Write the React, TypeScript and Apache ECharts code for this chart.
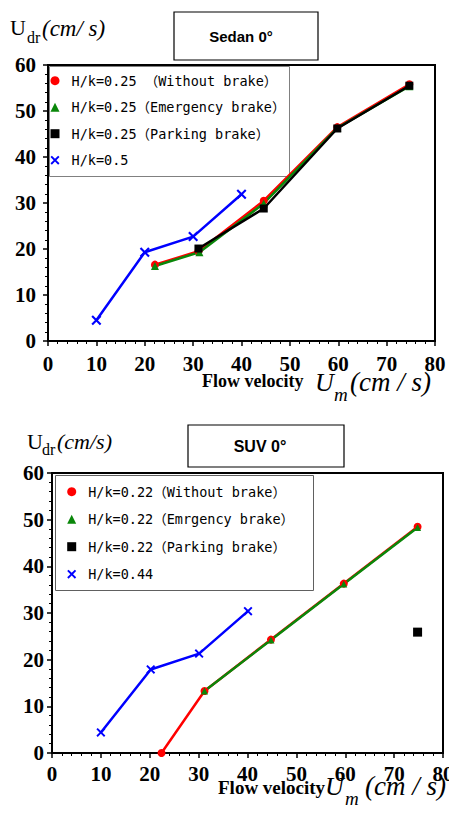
import React, { useEffect, useRef } from "react";
import * as echarts from "echarts";

// ---------- data ----------
const sedanNames = [
  "H/k=0.25 （Without brake）",
  "H/k=0.25（Emergency brake）",
  "H/k=0.25（Parking brake）",
  "H/k=0.5",
];
const sedanWithout = [[22.1, 16.6], [31.1, 19.5], [44.6, 30.5], [59.8, 46.5], [74.7, 55.8]];
const sedanEmergency = [[22.1, 16.3], [31.3, 19.3], [44.6, 29.9], [59.8, 46.3], [74.7, 55.4]];
const sedanParking = [[31.1, 20.1], [44.6, 28.8], [59.8, 46.2], [74.7, 55.5]];
const sedanHalf = [[10, 4.5], [20, 19.3], [30, 22.7], [40, 31.9]];

const suvNames = [
  "H/k=0.22（Without brake）",
  "H/k=0.22（Emrgency brake）",
  "H/k=0.22（Parking brake）",
  "H/k=0.44",
];
const suvWithout = [[22.4, 0], [31.2, 13.3], [44.8, 24.3], [59.7, 36.3], [74.8, 48.5]];
const suvEmergency = [[31.2, 13.3], [44.8, 24.2], [59.7, 36.2], [74.8, 48.3]];
const suvParking = [[74.8, 25.9]];
const suvHalf = [[10, 4.4], [20.2, 17.9], [30.1, 21.3], [40.1, 30.4]];

const xMin = 0, xMax = 80, xStep = 10;
const yMin = 0, yMax = 60, yStep = 10;

const RED = "#ff0000";
const GREEN = "#0a870a";
const BLACK = "#000000";
const BLUE = "#0000ff";
const X_PATH =
  "path://M0,1.5L1.5,0L5,3.5L8.5,0L10,1.5L6.5,5L10,8.5L8.5,10L5,6.5L1.5,10L0,8.5L3.5,5Z";

const symbols = ["circle", "triangle", "rect", X_PATH];
const colors = [RED, GREEN, BLACK, BLUE];

const SERIF = "Liberation Serif";

function axisBase(min: number, max: number, step: number, margin: number) {
  return {
    type: "value",
    min,
    max,
    interval: step,
    axisLine: { show: true, onZero: false, lineStyle: { color: "#000", width: 2 } },
    axisTick: { show: true, inside: false, length: 5, lineStyle: { color: "#000", width: 1.5 } },
    minorTick: { show: true, splitNumber: 5, length: 3, lineStyle: { color: "#000", width: 1 } },
    splitLine: { show: false },
    axisLabel: {
      show: true,
      color: "#000",
      fontFamily: SERIF,
      fontWeight: "bold",
      fontSize: 21,
      margin,
      formatter: "{t|{value}}",
      rich: {
        t: { fontFamily: SERIF, fontWeight: "bold", fontSize: 21, color: "#000" },
      },
    },
  };
}

function lineSeries(
  name: string,
  data: number[][],
  idx: number,
  gi: number,
  size: number,
  showLine = true
) {
  return {
    type: "line",
    name,
    xAxisIndex: gi,
    yAxisIndex: gi,
    data,
    symbol: symbols[idx],
    symbolSize: idx === 3 ? size + 2 : size,
    showSymbol: true,
    lineStyle: { color: colors[idx], width: showLine ? 2.5 : 0, opacity: showLine ? 1 : 0 },
    itemStyle: { color: colors[idx] },
    emphasis: { disabled: true },
  };
}

function txt(
  text: string,
  x: number,
  y: number,
  fontSize: number,
  opts: { family?: string; weight?: string; style?: string; align?: string } = {}
) {
  return {
    type: "text",
    x,
    y,
    z: 10,
    style: {
      text,
      fontSize,
      fontFamily: opts.family || SERIF,
      fontWeight: opts.weight || "normal",
      fontStyle: opts.style || "normal",
      fill: "#000",
      align: opts.align || "left",
      verticalAlign: "middle",
    },
  };
}

export default function App() {
  const ref = useRef<HTMLDivElement>(null);

  useEffect(() => {
    if (!ref.current) return;
    const chart = echarts.init(ref.current, undefined, { renderer: "svg" });

    const legendText = {
      fontFamily: "'DejaVu Sans Mono', 'Noto Sans CJK JP'",
      fontWeight: "normal",
      fontSize: 13.5,
      lineHeight: 18,
      color: "#000",
      padding: [0, 0, 0, 7],
    };

    const gridBase = {
      show: true,
      borderColor: "#000",
      borderWidth: 2,
      backgroundColor: "transparent",
      containLabel: false,
      outerBoundsMode: "none",
    };

    const option: any = {
      animation: false,
      backgroundColor: "#ffffff",
      textStyle: { fontFamily: SERIF },
      grid: [
        { ...gridBase, left: 48, top: 65, width: 387, height: 276 },
        { ...gridBase, left: 52, top: 473, width: 391, height: 280 },
      ],
      xAxis: [
        { ...axisBase(xMin, xMax, xStep, 12), gridIndex: 0 },
        { ...axisBase(xMin, xMax, xStep, 10), gridIndex: 1 },
      ],
      yAxis: [
        { ...axisBase(yMin, yMax, yStep, 12), gridIndex: 0 },
        { ...axisBase(yMin, yMax, yStep, 8), gridIndex: 1 },
      ],
      legend: [
        {
          orient: "vertical",
          left: 50.5,
          top: 71.7,
          padding: 0,
          itemWidth: 9,
          itemHeight: 9,
          itemGap: 8.5,
          selectedMode: false,
          textStyle: legendText,
          data: sedanNames.map((n, i) => ({ name: n, icon: symbols[i] })),
        },
        {
          orient: "vertical",
          left: 67.2,
          top: 482.7,
          padding: 0,
          itemWidth: 9,
          itemHeight: 9,
          itemGap: 9.5,
          selectedMode: false,
          textStyle: legendText,
          data: suvNames.map((n, i) => ({ name: n, icon: symbols[i] })),
        },
      ],
      series: [
        lineSeries(sedanNames[0], sedanWithout, 0, 0, 8),
        lineSeries(sedanNames[1], sedanEmergency, 1, 0, 8),
        lineSeries(sedanNames[2], sedanParking, 2, 0, 8),
        lineSeries(sedanNames[3], sedanHalf, 3, 0, 8),
        lineSeries(suvNames[0], suvWithout, 0, 1, 8),
        lineSeries(suvNames[1], suvEmergency, 1, 1, 7),
        lineSeries(suvNames[2], suvParking, 2, 1, 9, false),
        lineSeries(suvNames[3], suvHalf, 3, 1, 7),
      ],
      graphic: [
        // title boxes
        { type: "rect", z: 1, shape: { x: 174, y: 12, width: 144, height: 48 }, style: { fill: "#fff", stroke: "#000", lineWidth: 1.2 } },
        txt("Sedan 0°", 241, 36, 15, { family: "Liberation Sans", weight: "bold", align: "center" }),
        { type: "rect", z: 1, shape: { x: 188, y: 425, width: 156, height: 42 }, style: { fill: "#fff", stroke: "#000", lineWidth: 1.2 } },
        txt("SUV 0°", 260, 446, 16, { family: "Liberation Sans", weight: "bold", align: "center" }),
        // legend boxes
        { type: "rect", z: 1, shape: { x: 49.5, y: 66.5, width: 240, height: 110 }, style: { fill: "#fff", stroke: "#808080", lineWidth: 1 } },
        { type: "rect", z: 1, shape: { x: 55.5, y: 475.5, width: 258, height: 115 }, style: { fill: "#fff", stroke: "#606060", lineWidth: 1 } },
        // y titles
        txt("U", 10, 27.5, 22),
        txt("dr", 27, 37.6, 16),
        txt("(cm/ s)", 42, 28.2, 23, { style: "italic" }),
        txt("U", 27, 441.5, 22),
        txt("dr", 42, 449.6, 16),
        txt("(cm/s)", 57, 441.5, 22, { style: "italic" }),
        // x titles
        txt("Flow velocity", 202, 380.5, 18, { weight: "bold" }),
        txt("U", 315, 382, 26, { style: "italic" }),
        txt("m", 334, 394, 19, { style: "italic" }),
        txt("(cm / s)", 350, 381.5, 27, { style: "italic" }),
        txt("Flow velocity", 218, 787.5, 19, { weight: "bold" }),
        txt("U", 325, 786.5, 26, { style: "italic" }),
        txt("m", 345, 798.5, 19, { style: "italic" }),
        txt("(cm / s)", 365, 786, 27, { style: "italic" }),
      ],
    };

    chart.setOption(option);
    return () => chart.dispose();
  }, []);

  return (
    <div
      ref={ref}
      style={{ position: "absolute", left: 0, top: 0, width: 449, height: 814, background: "#fff" }}
    />
  );
}
